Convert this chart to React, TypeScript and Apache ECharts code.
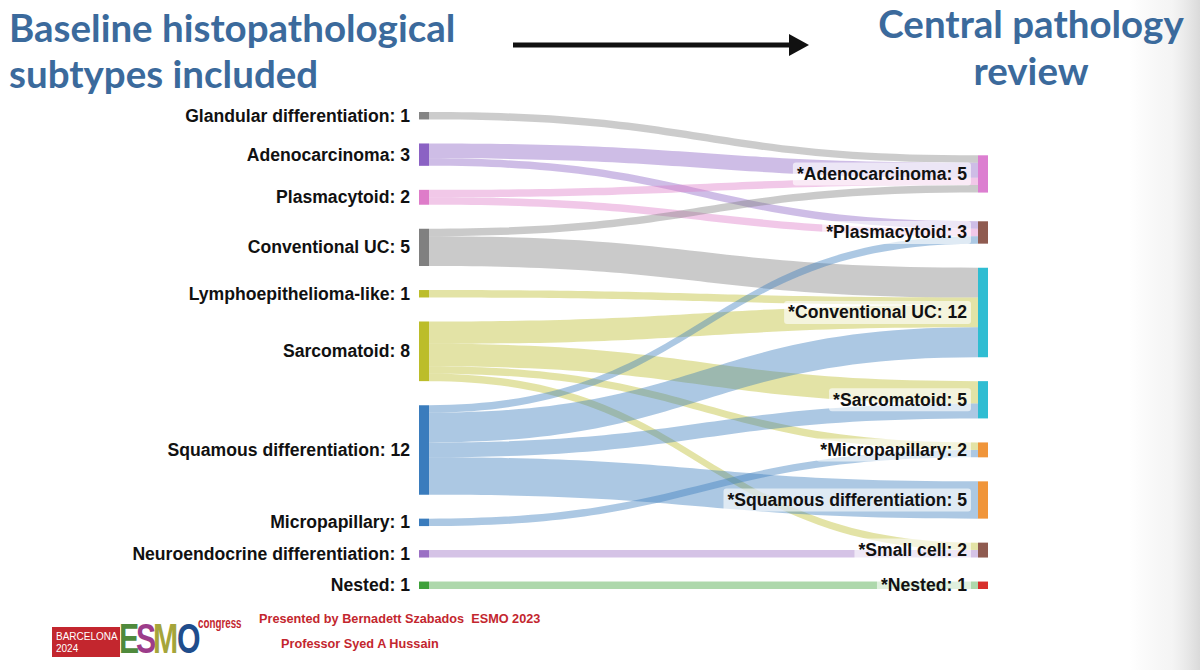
import React, { useEffect, useRef } from "react";
import * as echarts from "echarts";

// ---------- data ----------
const titleLeft = ["Baseline histopathological", "subtypes included"];
const titleRight = ["Central pathology", "review"];
const footerLines = ["Presented by Bernadett Szabados  ESMO 2023", "Professor Syed A Hussain"];

const leftNodes = [
  "Glandular differentiation",
  "Adenocarcinoma",
  "Plasmacytoid",
  "Conventional UC",
  "Lymphoepithelioma-like",
  "Sarcomatoid",
  "Squamous differentiation",
  "Micropapillary",
  "Neuroendocrine differentiation",
  "Nested",
];
const leftColors = ["#858585", "#8b62c4", "#de7cc9", "#808080", "#bcbd2a", "#bcbd2a", "#3a7cbd", "#3a7cbd", "#9a70c4", "#3ea13a"];

const rightNodes = [
  "*Adenocarcinoma",
  "*Plasmacytoid",
  "*Conventional UC",
  "*Sarcomatoid",
  "*Micropapillary",
  "*Squamous differentiation",
  "*Small cell",
  "*Nested",
];
const rightColors = ["#dc7ed0", "#8f5b50", "#2fbdd2", "#2fbdd2", "#f0953a", "#f0953a", "#8f5b50", "#d8302c"];

// [source, target, patients]
const flows: [string, string, number][] = [
  ["Glandular differentiation", "*Adenocarcinoma", 1],
  ["Adenocarcinoma", "*Adenocarcinoma", 2],
  ["Adenocarcinoma", "*Plasmacytoid", 1],
  ["Plasmacytoid", "*Adenocarcinoma", 1],
  ["Plasmacytoid", "*Plasmacytoid", 1],
  ["Conventional UC", "*Adenocarcinoma", 1],
  ["Conventional UC", "*Conventional UC", 4],
  ["Lymphoepithelioma-like", "*Conventional UC", 1],
  ["Sarcomatoid", "*Conventional UC", 3],
  ["Sarcomatoid", "*Sarcomatoid", 3],
  ["Sarcomatoid", "*Micropapillary", 1],
  ["Sarcomatoid", "*Small cell", 1],
  ["Squamous differentiation", "*Plasmacytoid", 1],
  ["Squamous differentiation", "*Conventional UC", 4],
  ["Squamous differentiation", "*Sarcomatoid", 2],
  ["Squamous differentiation", "*Squamous differentiation", 5],
  ["Micropapillary", "*Micropapillary", 1],
  ["Neuroendocrine differentiation", "*Small cell", 1],
  ["Nested", "*Nested", 1],
];

// ---------- layout settings ----------
const S_LEFT = 419;
const S_TOP = 112;
const S_W = 569;
const S_H = 477;
const GAP = 24;
const NODE_W = 10;
const LABEL_SIZE = 17.6;
const FONT = "'Liberation Sans', Arial, Helvetica, sans-serif";
const NARROW = "'Liberation Sans Narrow', 'Arial Narrow', 'Liberation Sans', sans-serif";
const TITLE_FONT = "Lato, 'Open Sans', sans-serif";
const BLUE = "#3b6a9c";
const RED = "#c3262e";

function nodeValue(name: string) {
  let inV = 0, outV = 0;
  flows.forEach((f) => {
    if (f[0] === name) outV += f[2];
    if (f[1] === name) inV += f[2];
  });
  return Math.max(inV, outV);
}

function computeRightTops() {
  const colSum = (col: string[]) => col.reduce((s, n) => s + nodeValue(n), 0);
  const ky = Math.min(
    (S_H - (leftNodes.length - 1) * GAP) / colSum(leftNodes),
    (S_H - (rightNodes.length - 1) * GAP) / colSum(rightNodes)
  );
  const leftTop: Record<string, number> = {};
  let y = 0;
  leftNodes.forEach((n) => {
    leftTop[n] = y;
    y += nodeValue(n) * ky + GAP;
  });
  const leftCenter = (n: string) => leftTop[n] + (nodeValue(n) * ky) / 2;
  const tops = rightNodes.map((n) => {
    const ins = flows.filter((f) => f[1] === n);
    const w = ins.reduce((s, f) => s + f[2], 0);
    const c = ins.reduce((s, f) => s + leftCenter(f[0]) * f[2], 0) / w;
    return c - (nodeValue(n) * ky) / 2;
  });
  let y0 = 0;
  rightNodes.forEach((n, i) => {
    tops[i] = Math.max(tops[i], y0);
    y0 = tops[i] + nodeValue(n) * ky + GAP;
  });
  let y1 = S_H;
  for (let i = rightNodes.length - 1; i >= 0; i--) {
    const h = nodeValue(rightNodes[i]) * ky;
    if (tops[i] + h > y1) tops[i] = y1 - h;
    y1 = tops[i] - GAP;
  }
  return tops.map((t) => Math.max(0, t));
}

function buildOption() {
  const rightTops = computeRightTops();
  const data: any[] = [];
  leftNodes.forEach((n, i) => {
    data.push({
      name: n,
      value: nodeValue(n),
      itemStyle: { color: leftColors[i] },
      label: {
        position: "left",
        distance: 9,
        color: "#111",
        fontSize: LABEL_SIZE,
        fontWeight: "bold",
        fontFamily: FONT,
      },
    });
  });
  rightNodes.forEach((n, i) => {
    data.push({
      name: n,
      value: nodeValue(n),
      localY: rightTops[i] / S_H,
      itemStyle: { color: rightColors[i] },
      label: {
        position: "left",
        distance: 7,
        color: "#111",
        fontSize: LABEL_SIZE,
        fontWeight: "bold",
        fontFamily: FONT,
        backgroundColor: "rgba(255,255,255,0.62)",
        padding: [3, 4, 2, 4],
        borderRadius: 3,
      },
    });
  });
  const links = flows.map((f) => ({ source: f[0], target: f[1], value: f[2] }));

  const g: any[] = [];
  // right edge shading
  g.push({
    type: "rect",
    shape: { x: 1130, y: 0, width: 70, height: 670 },
    style: {
      fill: new echarts.graphic.LinearGradient(0, 0, 1, 0, [
        { offset: 0, color: "rgba(235,235,235,0)" },
        { offset: 0.6, color: "rgba(240,240,240,0.7)" },
        { offset: 1, color: "rgba(218,218,218,1)" },
      ]),
    },
    silent: true,
    z: -10,
  });
  titleLeft.forEach((t, i) => {
    g.push({
      type: "text",
      x: 9,
      y: 27 + i * 46,
      style: { text: t, fill: BLUE, font: `bold 38.5px ${TITLE_FONT}`, verticalAlign: "middle", align: "left" },
    });
  });
  titleRight.forEach((t, i) => {
    g.push({
      type: "text",
      x: 1031,
      y: 23 + i * 47,
      style: { text: t, fill: BLUE, font: `bold 38.5px ${TITLE_FONT}`, verticalAlign: "middle", align: "center" },
    });
  });
  // arrow
  g.push({
    type: "line",
    shape: { x1: 513, y1: 45, x2: 792, y2: 45 },
    style: { stroke: "#111", lineWidth: 5 },
  });
  g.push({
    type: "polygon",
    shape: { points: [[789, 34], [809, 45], [789, 56]] },
    style: { fill: "#111" },
  });
  // logo
  g.push({ type: "rect", shape: { x: 52, y: 627, width: 68, height: 30 }, style: { fill: RED } });
  g.push({ type: "text", x: 56, y: 636, style: { text: "BARCELONA", fill: "#fff", font: `10px ${NARROW}`, verticalAlign: "middle" } });
  g.push({ type: "text", x: 56, y: 648, style: { text: "2024", fill: "#fff", font: `10px ${NARROW}`, verticalAlign: "middle" } });
  const esmo: [string, number, string][] = [
    ["E", 119, "#4f8a3c"],
    ["S", 136, "#9c3c8a"],
    ["M", 153, "#a5a53a"],
    ["O", 177, "#1f4d8c"],
  ];
  esmo.forEach(([ch, x, c]) => {
    g.push({
      type: "text",
      x,
      y: 660,
      scaleX: 0.72,
      style: { text: ch, fill: c, font: `bold 42px ${NARROW}`, verticalAlign: "bottom" },
    });
  });
  g.push({ type: "text", x: 198, y: 623, scaleX: 0.7, style: { text: "congress", fill: RED, font: `bold 14px ${NARROW}`, verticalAlign: "middle" } });
  g.push({ type: "text", x: 259, y: 619, style: { text: footerLines[0], fill: RED, font: `bold 12.7px ${NARROW}`, verticalAlign: "middle" } });
  g.push({ type: "text", x: 281, y: 644, style: { text: footerLines[1], fill: RED, font: `bold 12.7px ${NARROW}`, verticalAlign: "middle" } });

  return {
    animation: false,
    backgroundColor: "#fff",
    graphic: g,
    series: [
      {
        type: "sankey",
        left: S_LEFT,
        top: S_TOP,
        width: S_W,
        height: S_H,
        nodeWidth: NODE_W,
        nodeGap: GAP,
        layoutIterations: 0,
        draggable: false,
        emphasis: { disabled: true },
        data,
        links,
        label: {
          formatter: (p: any) => `${p.name}: ${p.value}`,
        },
        lineStyle: { color: "source", opacity: 0.42, curveness: 0.5 },
      },
    ],
  };
}

export default function App() {
  const ref = useRef<HTMLDivElement>(null);
  useEffect(() => {
    document.body.style.margin = "0";
    if (!ref.current) return;
    const chart = echarts.init(ref.current, undefined, { renderer: "svg" });
    chart.setOption(buildOption() as any);
    return () => chart.dispose();
  }, []);
  return <div ref={ref} style={{ position: "fixed", left: 0, top: 0, width: 1200, height: 670 }} />;
}
